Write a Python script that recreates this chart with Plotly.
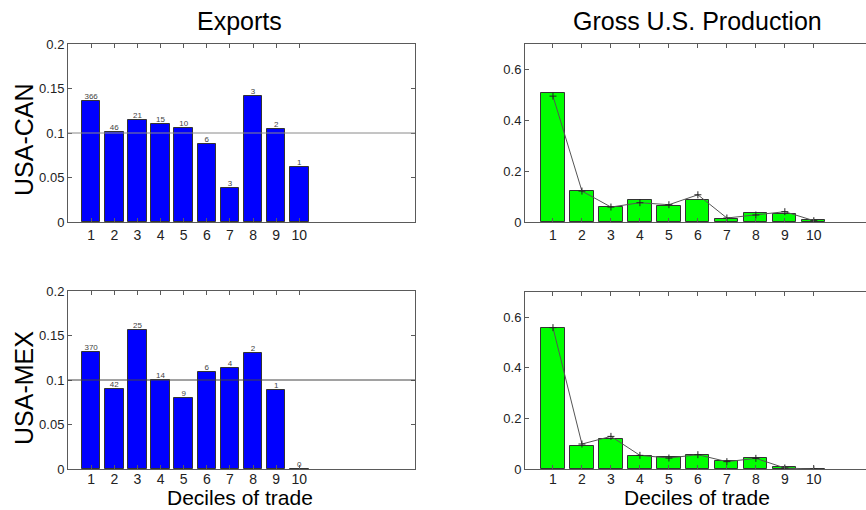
import plotly.graph_objects as go

deciles = [1, 2, 3, 4, 5, 6, 7, 8, 9, 10]

# Exports share by decile
can_exports = [0.136, 0.1015, 0.1146, 0.110, 0.106, 0.0876, 0.038, 0.142, 0.104, 0.0618]
can_counts = ["366", "46", "21", "15", "10", "6", "3", "3", "2", "1"]
mex_exports = [0.1315, 0.0899, 0.1557, 0.100, 0.0798, 0.109, 0.1138, 0.1307, 0.0888, 0.0]
mex_counts = ["370", "42", "25", "14", "9", "6", "4", "2", "1", "0"]
reference_level = 0.1

# Gross U.S. production share by decile (bars) and comparison line
can_prod_bars = [0.506, 0.1216, 0.0575, 0.0863, 0.0627, 0.0863, 0.0118, 0.0353, 0.0314, 0.0078]
can_prod_line = [0.495, 0.1216, 0.0588, 0.0758, 0.068, 0.107, 0.0157, 0.0275, 0.0405, 0.0052]
mex_prod_bars = [0.5566, 0.0921, 0.118, 0.0526, 0.0474, 0.0566, 0.0329, 0.0421, 0.0079, 0.001]
mex_prod_line = [0.559, 0.0987, 0.129, 0.054, 0.0434, 0.0566, 0.029, 0.0421, 0.004, 0.0]

left_yticks = [0, 0.05, 0.1, 0.15, 0.2]
left_yticklabels = ["0", "0.05", "0.1", "0.15", "0.2"]
right_yticks = [0, 0.2, 0.4, 0.6]
right_yticklabels = ["0", "0.2", "0.4", "0.6"]

FONT = "Liberation Sans, Arial, sans-serif"
W, H = 866, 510
AX = "#5a5a5a"

fig = go.Figure()

def bar(x, y, color, xa, ya):
    fig.add_trace(go.Bar(x=x, y=y, width=0.8, marker=dict(color=color, line=dict(color="#333333", width=1)),
                         xaxis=xa, yaxis=ya, showlegend=False, hoverinfo="skip"))

bar(deciles, can_exports, "#0000FF", "x", "y")
bar(deciles, mex_exports, "#0000FF", "x3", "y3")
bar(deciles, can_prod_bars, "#00FF00", "x2", "y2")
bar(deciles, mex_prod_bars, "#00FF00", "x4", "y4")

for vals, labels, xa, ya in [(can_exports, can_counts, "x", "y"), (mex_exports, mex_counts, "x3", "y3")]:
    fig.add_trace(go.Scatter(x=deciles, y=vals, text=labels, mode="text", textposition="top center",
                             textfont=dict(size=8, color="#444444", family=FONT),
                             xaxis=xa, yaxis=ya, showlegend=False, hoverinfo="skip"))

for vals, xa, ya in [(can_prod_line, "x2", "y2"), (mex_prod_line, "x4", "y4")]:
    fig.add_trace(go.Scatter(x=deciles, y=vals, mode="lines+markers",
                             line=dict(color="#555555", width=1),
                             marker=dict(symbol="cross-thin", size=5, line=dict(color="#222222", width=1)),
                             xaxis=xa, yaxis=ya, showlegend=False, hoverinfo="skip"))

def px_x(a, b):
    return [a / W, min(b / W, 1.0)]

def px_y(top, bottom):
    return [1 - bottom / H, 1 - top / H]

tickfont = dict(family=FONT, size=13, color="#222222")
common_x = dict(tickvals=deciles, ticktext=[str(d) for d in deciles], ticks="inside", ticklen=4,
                tickcolor=AX, showline=True, linecolor=AX, linewidth=1, showgrid=False, automargin=False,
                zeroline=False, tickfont=dict(family=FONT, size=14, color="#222222"), fixedrange=True)
common_y = dict(ticks="inside", ticklen=4, tickcolor=AX, showline=True, linecolor=AX, linewidth=1,
                showgrid=False, zeroline=False, tickfont=tickfont, fixedrange=True, automargin=False)

layout = dict(
    width=W, height=H, margin=dict(l=0, r=0, t=0, b=0, pad=0, autoexpand=False), autosize=False,
    paper_bgcolor="white", plot_bgcolor="white", bargap=0,
    xaxis=dict(common_x, domain=px_x(68, 415), range=[0, 15], mirror="ticks", anchor="y"),
    yaxis=dict(common_y, domain=px_y(44, 222), range=[0, 0.2], tickvals=left_yticks,
               ticktext=left_yticklabels, mirror="ticks", anchor="x"),
    xaxis3=dict(common_x, domain=px_x(68, 415), range=[0, 15], mirror="ticks", anchor="y3",
                ticklabelstandoff=-3),
    yaxis3=dict(common_y, domain=px_y(291, 469), range=[0, 0.2], tickvals=left_yticks,
                ticktext=left_yticklabels, mirror="ticks", anchor="x3"),
    xaxis2=dict(common_x, domain=px_x(525, 866), range=[0.035, 11.8], mirror="ticks", anchor="y2"),
    yaxis2=dict(common_y, domain=px_y(44, 222), range=[0, 0.7], tickvals=right_yticks,
                ticktext=right_yticklabels, mirror=False, anchor="x2"),
    xaxis4=dict(common_x, domain=px_x(525, 866), range=[0.035, 11.8], mirror="ticks", anchor="y4",
                ticklabelstandoff=-3),
    yaxis4=dict(common_y, domain=px_y(292, 469), range=[0, 0.7], tickvals=right_yticks,
                ticktext=right_yticklabels, mirror=False, anchor="x4"),
)
fig.update_layout(**layout)

fig.add_shape(type="line", xref="x domain", yref="y", x0=0, x1=1, y0=reference_level, y1=reference_level,
              line=dict(color="#8a8a8a", width=1))
fig.add_shape(type="line", xref="x3 domain", yref="y3", x0=0, x1=1, y0=reference_level, y1=reference_level,
              line=dict(color="#444444", width=1))

def ann(text, x, y, size, angle=0):
    fig.add_annotation(text=text, x=x / W, y=1 - y / H, xref="paper", yref="paper", showarrow=False,
                       textangle=angle, font=dict(family=FONT, size=size, color="black"),
                       xanchor="center", yanchor="middle")

ann("Exports", 240, 21, 25)
ann("Gross U.S. Production", 697, 21, 25)
ann("Deciles of trade", 240, 497, 21)
ann("Deciles of trade", 697, 497, 21)
ann("USA-CAN", 24, 140, 25, -90)
ann("USA-MEX", 24, 388, 25, -90)

fig.write_html("out.html", config={"displayModeBar": False, "responsive": False},
               post_script="document.body.style.margin='0';document.body.style.overflow='hidden';")
